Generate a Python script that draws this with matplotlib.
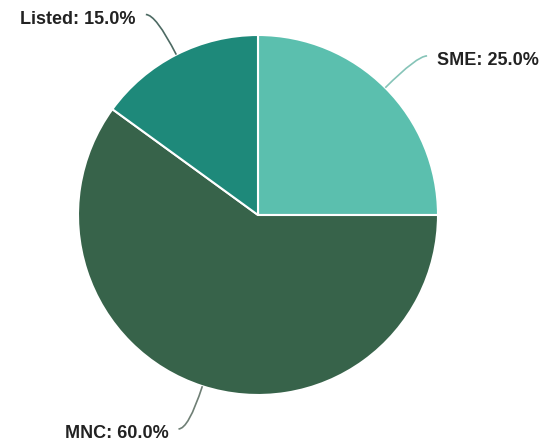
import numpy as np
import matplotlib
matplotlib.use("Agg")
import matplotlib.pyplot as plt
from matplotlib.path import Path
from matplotlib.patches import PathPatch

categories = ["SME", "MNC", "Listed"]
values = [25.0, 60.0, 15.0]
colors = ["#5bbfae", "#37634a", "#1e897a"]
line_colors = ["#86c4b8", "#6f7f75", "#4d6a63"]

W, H = 558, 446
fig = plt.figure(figsize=(W / 100, H / 100), dpi=100)
ax = fig.add_axes([0, 0, 1, 1])

cx, cy, r = 258, H - 215, 180
ax.pie(values, colors=colors, startangle=90, counterclock=False,
       radius=r, center=(cx, cy), frame=True,
       wedgeprops=dict(edgecolor="white", linewidth=1.5))
ax.set_xlim(0, W)
ax.set_ylim(0, H)
ax.set_aspect("equal")
ax.axis("off")

total = sum(values)
start = 90.0
for cat, v, col, lc in zip(categories, values, colors, line_colors):
    span = 360.0 * v / total
    mid = np.deg2rad(start - span / 2)
    start -= span
    p0 = (cx + r * np.cos(mid), cy + r * np.sin(mid))
    re = r * 1.25
    p1 = (cx + re * np.cos(mid), cy + re * np.sin(mid))
    side = 1 if np.cos(mid) >= 0 else -1
    p2 = (p1[0] + side * 10, p1[1])
    path = Path([p0, p1, p2], [Path.MOVETO, Path.CURVE3, Path.CURVE3])
    ax.add_patch(PathPatch(path, facecolor="none", edgecolor=lc, lw=1.2))
    ax.text(p2[0] + side * 10, p2[1] - 5, f"{cat}: {v:.1f}%",
            ha="left" if side > 0 else "right", va="center",
            fontsize=13, fontweight="bold", family=["Liberation Sans", "DejaVu Sans"],
            color="#222222")

fig.savefig("out.png", dpi=100)
